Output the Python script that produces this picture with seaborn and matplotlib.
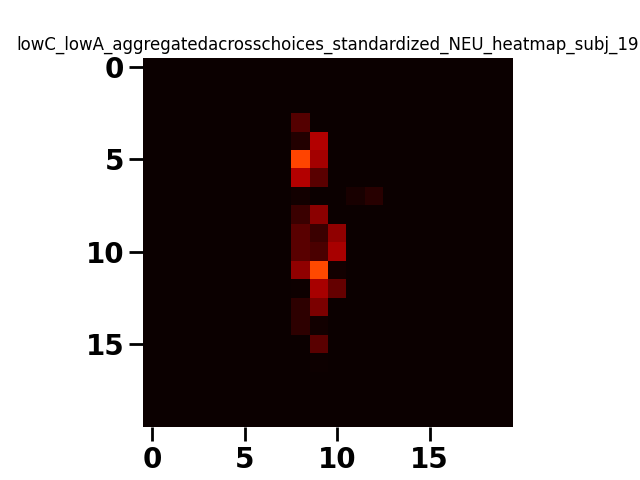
import numpy as np
import seaborn as sns
import matplotlib
matplotlib.use('Agg')
import matplotlib.pyplot as plt

# non zero cells, everything else is ~0
rows = [3, 4, 4, 5, 5, 6, 6, 7, 7, 7, 7, 7, 8, 8, 9, 9, 9, 10, 10, 10, 11, 11, 11, 11, 12, 12, 12, 13, 13, 14, 14, 15, 16]
cols = [8, 8, 9, 8, 9, 8, 9, 8, 9, 10, 11, 12, 8, 9, 8, 9, 10, 8, 9, 10, 8, 9, 10, 11, 8, 9, 10, 8, 9, 8, 9, 9, 9]
vals = [.111, .036, .252, .468, .23, .252, .118, .014, .002, .001, .021, .044, .074, .193,
        .118, .074, .2, .118, .096, .237, .2, .475, .014, .002, .007, .237, .133, .051, .17,
        .051, .014, .118, .005]
title = 'lowC_lowA_aggregatedacrosschoices_standardized_NEU_heatmap_subj_19'

grid = np.zeros((20, 20))
grid[rows, cols] = vals

fig, ax = plt.subplots(figsize=(6.4, 4.8))
sns.heatmap(grid, cmap='hot', vmin=0, vmax=1, cbar=False, square=True,
            xticklabels=5, yticklabels=5, ax=ax)
ax.tick_params(axis='both', length=10, width=2, labelsize=20, pad=3.5)
for lab in ax.get_xticklabels() + ax.get_yticklabels():
    lab.set_fontweight('bold')
for lab in ax.get_yticklabels():
    lab.set_va('center_baseline')
ax.tick_params(axis='y', labelrotation=0)
ax.tick_params(axis='x', labelrotation=0)
ax.set_title(title, fontsize=12)
plt.savefig('out.png', dpi=100)
